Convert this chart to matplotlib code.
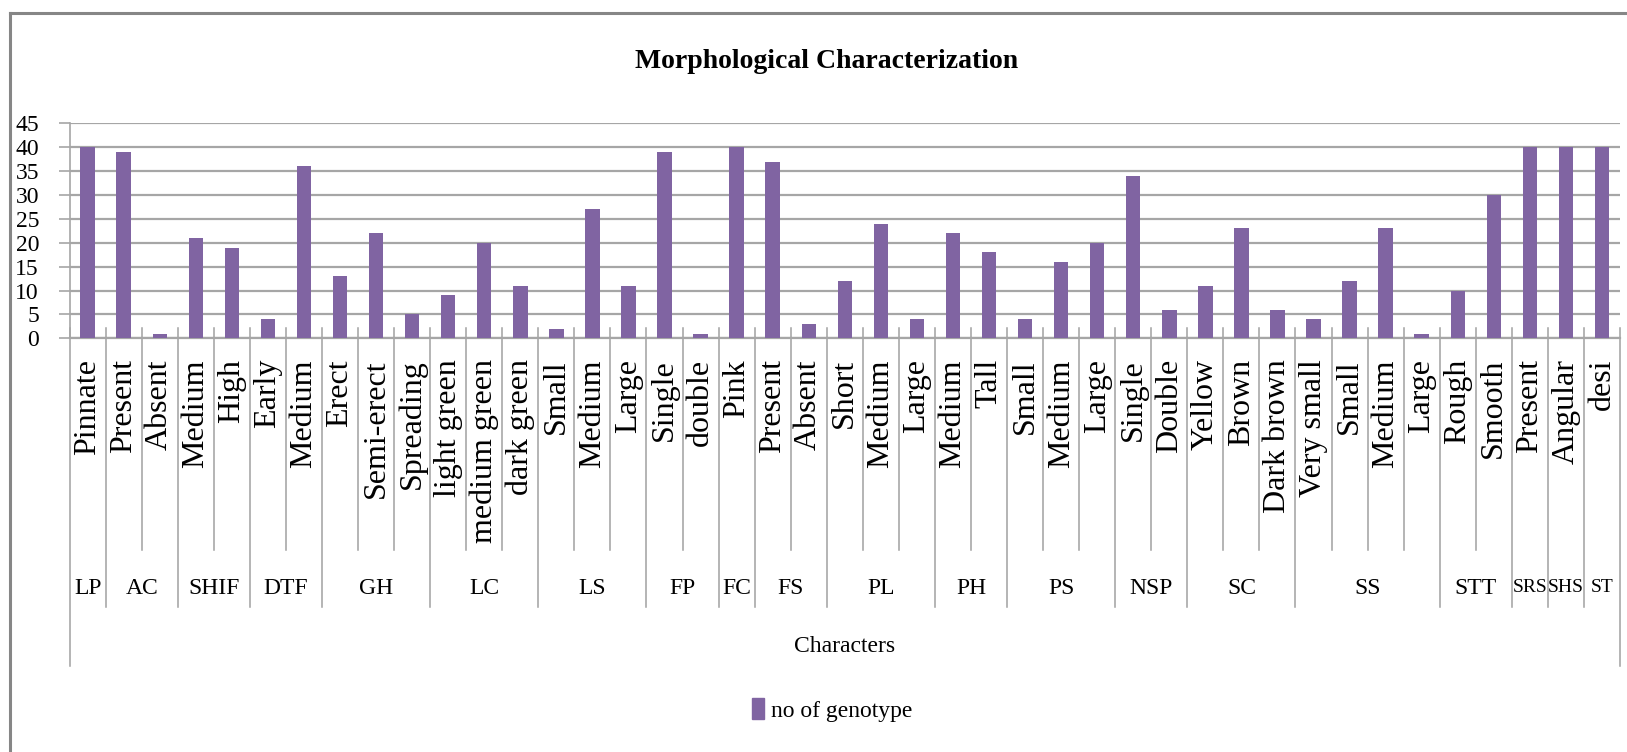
import matplotlib.pyplot as plt
import matplotlib.transforms as mtransforms
from matplotlib.lines import Line2D
from matplotlib.patches import Patch

plt.rcParams['font.family'] = ['Liberation Serif', 'DejaVu Serif']

# characters (groups) and their states
groups = ["LP", "AC", "SHIF", "DTF", "GH", "LC", "LS", "FP", "FC", "FS",
          "PL", "PH", "PS", "NSP", "SC", "SS", "STT", "SRS", "SHS", "ST"]
states = [
    ["Pinnate"],
    ["Present", "Absent"],
    ["Medium", "High"],
    ["Early", "Medium"],
    ["Erect", "Semi-erect", "Spreading"],
    ["light green", "medium green", "dark green"],
    ["Small", "Medium", "Large"],
    ["Single", "double"],
    ["Pink"],
    ["Present", "Absent"],
    ["Short", "Medium", "Large"],
    ["Medium", "Tall"],
    ["Small", "Medium", "Large"],
    ["Single", "Double"],
    ["Yellow", "Brown", "Dark brown"],
    ["Very small", "Small", "Medium", "Large"],
    ["Rough", "Smooth"],
    ["Present"],
    ["Angular"],
    ["desi"],
]
genotypes = [
    [40],
    [39, 1],
    [21, 19],
    [4, 36],
    [13, 22, 5],
    [9, 20, 11],
    [2, 27, 11],
    [39, 1],
    [40],
    [37, 3],
    [12, 24, 4],
    [22, 18],
    [4, 16, 20],
    [34, 6],
    [11, 23, 6],
    [4, 12, 23, 1],
    [10, 30],
    [40],
    [40],
    [40],
]

labels = [s for g in states for s in g]
values = [v for g in genotypes for v in g]
n = len(values)

W, H = 1627, 752
fig = plt.figure(figsize=(W / 100, H / 100), dpi=100)

def fy(py):
    return 1 - py / H

ax = fig.add_axes([69.6 / W, fy(338.3), (1620 - 69.6) / W, (338.3 - 123.3) / H])

purple = "#8064A2"
grid_c = "#A6A6A6"
sep_c = "#A0A0A0"

x = list(range(n))
ax.bar(x, values, width=0.4, color=purple, zorder=3)
ax.set_xlim(-0.5, n - 0.5)
ax.set_ylim(0, 45)
ax.set_yticks(range(0, 46, 5))
ax.yaxis.grid(True, color=grid_c, linewidth=1.6, zorder=0)
ax.tick_params(axis='y', labelsize=17, length=8, width=1.2, color=grid_c, pad=14)
ax.set_xticks([])
for s in ["top", "right"]:
    ax.spines[s].set_visible(False)
ax.spines["left"].set_color(grid_c)
ax.spines["bottom"].set_color(grid_c)
ax.spines["left"].set_linewidth(1.2)
ax.spines["bottom"].set_linewidth(1.6)

trans = mtransforms.blended_transform_factory(ax.transData, fig.transFigure)

# state labels
for i, lab in enumerate(labels):
    ax.text(i, fy(359), lab, rotation=90, ha='center', va='top',
            fontsize=23, transform=trans)

# separators
bounds = [-0.5]
for g in states:
    bounds.append(bounds[-1] + len(g))
group_edges = set(bounds)
for k in range(n + 1):
    xb = k - 0.5
    if xb in (bounds[0], bounds[-1]):
        y_end = 666
    elif xb in group_edges:
        y_end = 607
    else:
        y_end = 550
    ax.add_line(Line2D([xb, xb], [fy(328), fy(y_end)], color=sep_c,
                       linewidth=1.1, transform=trans, clip_on=False))

# group labels (single-column groups at the end are squeezed)
for gi, g in enumerate(groups):
    xc = (bounds[gi] + bounds[gi + 1]) / 2
    fs = 14 if g in ("SRS", "SHS", "ST") else 17
    ax.text(xc, fy(588), g, ha='center', va='center', fontsize=fs,
            transform=trans)

fig.text(845 / W, fy(647), "Characters", ha='center', va='center', fontsize=17)
fig.text(827 / W, fy(62), "Morphological Characterization", ha='center',
         va='center', fontsize=20, fontweight='bold')

fig.legend(handles=[Patch(color=purple, label="no of genotype")],
           loc='center', bbox_to_anchor=(832 / W, fy(710)), frameon=False,
           fontsize=17, handlelength=0.5, handleheight=1.0, handletextpad=0.3)

# chart area border
fig.add_artist(Line2D([10 / W, 10 / W], [fy(13), 0], color="#868686", linewidth=2.2))
fig.add_artist(Line2D([10 / W, 1], [fy(13), fy(13)], color="#868686", linewidth=2.2))

fig.savefig("out.png", dpi=100)
